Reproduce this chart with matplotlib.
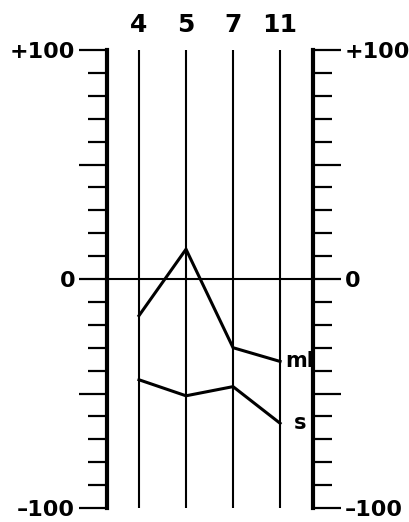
import matplotlib
matplotlib.use("Agg")
import matplotlib.pyplot as plt

categories = ["4", "5", "7", "11"]
ml_values = [-16, 13, -30, -36]
s_values = [-44, -51, -47, -63]
ytick_major = [-100, -50, 0, 50, 100]
ytick_labels = ["\u2013100", "", "0", "", "+100"]
ytick_minor = list(range(-100, 101, 10))

plt.rcParams['font.family'] = ['DejaVu Sans']
fig = plt.figure(figsize=(4.10, 5.22), dpi=100)
ax = fig.add_axes([107/410, 14/522, 206/410, 458/522])

x = list(range(len(categories)))
ax.set_xlim(-0.68, 3.70)
ax.set_ylim(-100, 100)

for xi in x:
    ax.axvline(xi, color='black', lw=1.5)
ax.axhline(0, color='black', lw=1.5)

ax.plot(x, ml_values, color='black', lw=2.2, solid_joinstyle='miter')
ax.plot(x, s_values, color='black', lw=2.2, solid_joinstyle='miter')
ax.annotate("ml", (x[-1], ml_values[-1]), xytext=(4, 0), textcoords='offset points',
            ha='left', va='center', fontsize=15, fontweight='bold')
ax.annotate("s", (x[-1], s_values[-1]), xytext=(10, 0), textcoords='offset points',
            ha='left', va='center', fontsize=15, fontweight='bold')

for side in ['top', 'bottom']:
    ax.spines[side].set_visible(False)
for side in ['left', 'right']:
    ax.spines[side].set_linewidth(3)

ax.set_yticks(ytick_major)
ax.set_yticklabels(ytick_labels)
ax.set_yticks(ytick_minor, minor=True)
ax.tick_params(axis='y', which='major', direction='out', length=20, width=1.6,
               left=True, right=True, labelleft=True, labelright=True,
               labelsize=16, pad=3)
ax.tick_params(axis='y', which='minor', direction='out', length=14, width=1.6,
               left=True, right=True)
for lab in ax.get_yticklabels():
    lab.set_fontweight('bold')

ax.set_xticks(x)
ax.set_xticklabels(categories)
ax.tick_params(axis='x', which='both', length=0, bottom=False, top=False,
               labelbottom=False, labeltop=True, labelsize=18, pad=9)
for lab in ax.get_xticklabels():
    lab.set_fontweight('bold')

fig.savefig("out.png", dpi=100)
